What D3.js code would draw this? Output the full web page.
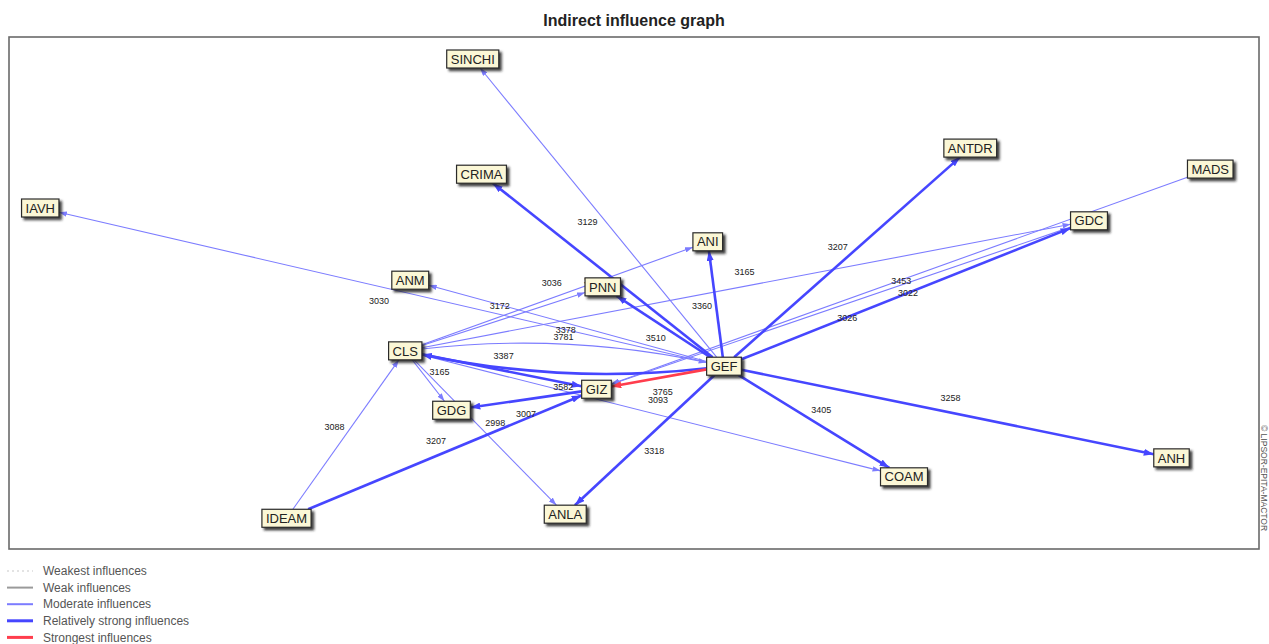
<!DOCTYPE html>
<html>
<head>
<meta charset="utf-8">
<script src="https://cdn.jsdelivr.net/npm/d3@7"></script>
<style>
  body { margin: 0; background: #fff; }
  text { font-family: Arial, "Liberation Sans", sans-serif; }
  .title { font-size: 16px; font-weight: bold; fill: #222; }
  .node text { font-size: 13px; fill: #222; }
  .elabel { font-size: 9px; fill: #222; }
  .legend text { font-size: 12px; fill: #555; }
</style>
</head>
<body>
<script>
// actors, position in the influence plane (0-100 on both axes)
const actors = ["SINCHI","CRIMA","IAVH","ANTDR","MADS","GDC","ANI","ANM","PNN","CLS","GEF","GIZ","GDG","ANH","COAM","IDEAM","ANLA"];
const actorX = [37.1, 37.8, 2.5, 76.9, 96.1, 86.4, 55.9, 32.1, 47.5, 31.7, 57.2, 47.0, 35.4, 93.0, 71.6, 22.2, 44.5];
const actorY = [4.3, 26.8, 33.4, 21.7, 25.8, 35.9, 40.0, 47.5, 48.8, 61.3, 64.3, 68.8, 72.9, 82.2, 85.9, 94.0, 93.2];

// indirect influences: source, target, class, value
const influences = [
  ["GEF", "SINCHI", "moderate", 3129],
  ["GEF", "CRIMA", "strong", 3284],
  ["GEF", "ANI", "strong", 3360],
  ["GEF", "ANTDR", "strong", 3207],
  ["GEF", "GDC", "strong", 3453],
  ["GEF", "PNN", "strong", 3510],
  ["GEF", "ANM", "moderate", 3781],
  ["GEF", "IAVH", "moderate", 3030],
  ["GEF", "CLS", "strong", 3582],
  ["GEF", "ANLA", "strong", 3318],
  ["GEF", "COAM", "strong", 3405],
  ["GEF", "ANH", "strong", 3258],
  ["CLS", "GEF", "moderate", 3378],
  ["CLS", "PNN", "moderate", 3172],
  ["CLS", "ANI", "moderate", 3036],
  ["CLS", "GDC", "moderate", 3165],
  ["CLS", "GIZ", "strong", 3387],
  ["CLS", "GDG", "moderate", 3165],
  ["CLS", "ANLA", "moderate", 2998],
  ["CLS", "COAM", "moderate", 3093],
  ["GIZ", "GDG", "strong", 3007],
  ["GDC", "GIZ", "moderate", 3026],
  ["MADS", "GIZ", "moderate", 3022],
  ["IDEAM", "CLS", "moderate", 3088],
  ["IDEAM", "GIZ", "strong", 3207],
  ["GEF", "GIZ", "strongest", 3765]
];

const legendItems = [
  ["weakest", "Weakest influences"],
  ["weak", "Weak influences"],
  ["moderate", "Moderate influences"],
  ["strong", "Relatively strong influences"],
  ["strongest", "Strongest influences"]
];

const width = 1269, height = 644;
const frame = {left: 9, top: 37, right: 1259, bottom: 549};

const styles = {
  weakest:   {color: "#c8c8c8", w: 1.2, dash: "2,3"},
  weak:      {color: "#9a9a9a", w: 1.6, dash: null},
  moderate:  {color: "#7c7cff", w: 1.1, dash: null},
  strong:    {color: "#4646ff", w: 2.6, dash: null},
  strongest: {color: "#ff3d4d", w: 2.6, dash: null}
};

const svg = d3.select("body").append("svg")
  .attr("width", width).attr("height", height);

const defs = svg.append("defs");
defs.append("filter").attr("id", "shadow")
  .attr("x", "-20%").attr("y", "-30%").attr("width", "150%").attr("height", "180%")
  .append("feDropShadow")
  .attr("dx", 2.5).attr("dy", 2.5).attr("stdDeviation", 0.9)
  .attr("flood-color", "#222").attr("flood-opacity", 0.85);

["moderate", "strong", "strongest"].forEach(k => {
  const big = k !== "moderate";
  const L = big ? 10 : 8, Wd = big ? 7 : 5.5;
  defs.append("marker").attr("id", "arrow-" + k)
    .attr("markerUnits", "userSpaceOnUse")
    .attr("viewBox", `0 0 ${L} ${Wd}`)
    .attr("markerWidth", L).attr("markerHeight", Wd)
    .attr("refX", L).attr("refY", Wd / 2)
    .attr("orient", "auto")
    .append("path")
    .attr("d", `M0,0L${L},${Wd / 2}L0,${Wd}Z`)
    .attr("fill", styles[k].color);
});

// title
svg.append("text").attr("class", "title")
  .attr("x", 634).attr("y", 26).attr("text-anchor", "middle")
  .text("Indirect influence graph");

// frame
svg.append("rect")
  .attr("x", frame.left).attr("y", frame.top)
  .attr("width", frame.right - frame.left).attr("height", frame.bottom - frame.top)
  .attr("fill", "none").attr("stroke", "#6a6a6a").attr("stroke-width", 1.6);

const x = d3.scaleLinear().domain([0, 100]).range([frame.left, frame.right]);
const y = d3.scaleLinear().domain([0, 100]).range([frame.top, frame.bottom]);

// measure the boxes first
const measure = svg.append("text").attr("class", "node").style("font-size", "13px");
const nodes = new Map();
actors.forEach((name, i) => {
  measure.text(name);
  const tw = measure.node().getComputedTextLength();
  nodes.set(name, {name, x: x(actorX[i]), y: y(actorY[i]), hw: tw / 2 + 4, hh: 9});
});
measure.remove();

function clip(n, dx, dy) {
  const tx = dx === 0 ? Infinity : n.hw / Math.abs(dx);
  const ty = dy === 0 ? Infinity : n.hh / Math.abs(dy);
  const t = Math.min(tx, ty);
  return [n.x + dx * t, n.y + dy * t];
}

const pairs = new Set(influences.map(d => d[0] + ">" + d[1]));

const links = influences.map(([s, t, k, v]) => {
  const a = nodes.get(s), b = nodes.get(t);
  const dx = b.x - a.x, dy = b.y - a.y, len = Math.hypot(dx, dy);
  const px = dy / len, py = -dx / len;
  const both = pairs.has(t + ">" + s);
  let path, mx, my;
  if (both) {
    const bend = 26;
    const cx = (a.x + b.x) / 2 + bend * px, cy = (a.y + b.y) / 2 + bend * py;
    const p0 = clip(a, cx - a.x, cy - a.y), p1 = clip(b, cx - b.x, cy - b.y);
    path = `M${p0}Q${cx},${cy} ${p1}`;
    mx = 0.25 * p0[0] + 0.5 * cx + 0.25 * p1[0];
    my = 0.25 * p0[1] + 0.5 * cy + 0.25 * p1[1];
  } else {
    const p0 = clip(a, dx, dy), p1 = clip(b, -dx, -dy);
    path = `M${p0}L${p1}`;
    mx = (a.x + b.x) / 2; my = (a.y + b.y) / 2;
  }
  return {k, v, path, lx: mx + 14 * px, ly: my + 14 * py};
});

const order = {moderate: 0, strong: 1, strongest: 2};
links.sort((p, q) => order[p.k] - order[q.k]);

svg.append("g").attr("class", "links")
  .selectAll("path").data(links).join("path")
  .attr("d", d => d.path)
  .attr("fill", "none")
  .attr("stroke", d => styles[d.k].color)
  .attr("stroke-width", d => styles[d.k].w)
  .attr("marker-end", d => `url(#arrow-${d.k})`);

svg.append("g")
  .selectAll("text").data(links).join("text")
  .attr("class", "elabel")
  .attr("x", d => d.lx).attr("y", d => d.ly)
  .attr("text-anchor", "middle").attr("dy", "0.35em")
  .text(d => d.v);

const node = svg.append("g")
  .selectAll("g").data([...nodes.values()]).join("g")
  .attr("class", "node")
  .attr("transform", d => `translate(${d.x},${d.y})`);

node.append("rect")
  .attr("x", d => -d.hw).attr("y", d => -d.hh)
  .attr("width", d => 2 * d.hw).attr("height", d => 2 * d.hh)
  .attr("fill", "#fbf7d6").attr("stroke", "#2a2a2a").attr("stroke-width", 1.2)
  .attr("filter", "url(#shadow)");

node.append("text")
  .attr("text-anchor", "middle").attr("dy", "0.36em")
  .text(d => d.name);

// legend
const legend = svg.append("g").attr("class", "legend")
  .selectAll("g").data(legendItems).join("g")
  .attr("transform", (d, i) => `translate(0,${571 + i * 16.6})`);

legend.append("line")
  .attr("x1", 7).attr("x2", 33).attr("y1", 0).attr("y2", 0)
  .attr("stroke", d => styles[d[0]].color)
  .attr("stroke-width", d => d[0] === "weakest" ? 1.2 : (d[0] === "strong" || d[0] === "strongest" ? 3 : 2))
  .attr("stroke-dasharray", d => styles[d[0]].dash);

legend.append("text")
  .attr("x", 43).attr("dy", "0.35em")
  .text(d => d[1]);

// side credit
svg.append("text")
  .attr("transform", "translate(1261,425) rotate(90)")
  .style("font-size", "8.5px").style("fill", "#555")
  .text("© LIPSOR-EPITA-MACTOR");
</script>
</body>
</html>
